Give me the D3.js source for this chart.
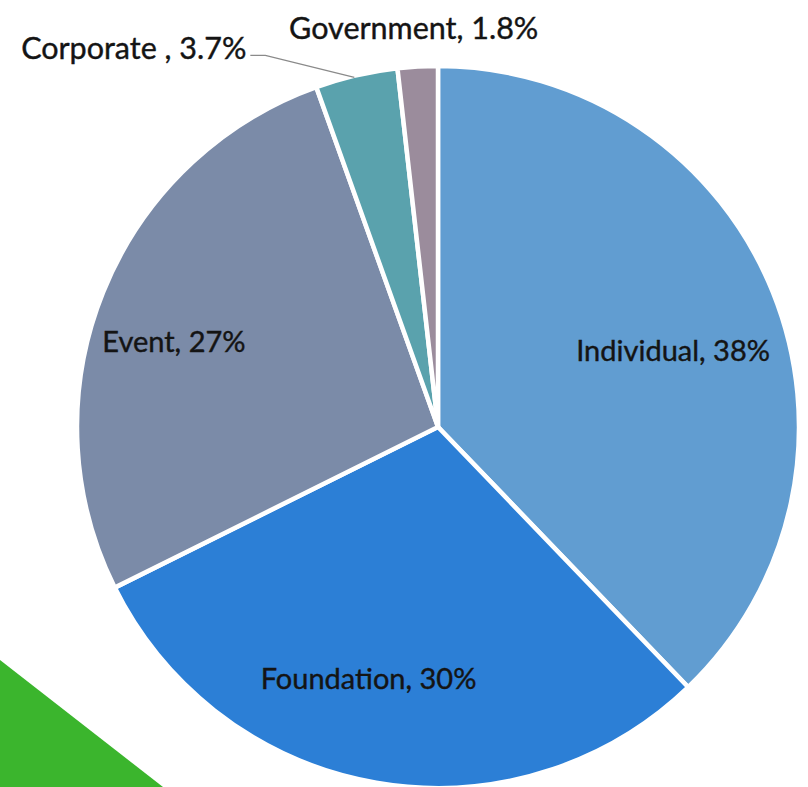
<!doctype html>
<html lang="en">
<head>
  <meta charset="utf-8">
  <title>Funding sources</title>
  <script src="https://cdn.jsdelivr.net/npm/d3@7"></script>
  <style>
    body { margin: 0; background: #fff; }
    svg { display: block; }
    .label { font-family: Lato, "Open Sans", sans-serif; font-size: 29px; fill: #141414; stroke: #141414; stroke-width: 0.4px; }
  </style>
</head>
<body>
  <div id="chart"></div>
  <script>
    // data, clockwise from 12 o'clock
    const categories = ["Individual", "Foundation", "Event", "Corporate ", "Government"];
    const values = [38, 30, 27, 3.7, 1.8];
    const valueLabels = ["38%", "30%", "27%", "3.7%", "1.8%"];

    const COLORS = ["#619dd1", "#2c7fd6", "#7b8ba8", "#5aa2ad", "#9b8c9c"];
    const GREEN = "#3bb52d";

    const w = 808;
    const h = 787;
    const cx = 438;
    const cy = 427;
    const radius = 361;

    // nudges for label placement (px), inner labels from centroid, outer from arc edge
    const labelStyle = {
      "Individual": { outside: false, dx: -6, dy: 21, size: 29 },
      "Foundation": { outside: false, dx: -25, dy: -4, size: 29 },
      "Event": { outside: false, dx: -23, dy: 12, size: 29 },
      "Corporate ": { outside: true, anchor: "end", dx: -110, dy: -27, elbow: -91, size: 30.5 },
      "Government": { outside: true, anchor: "middle", dx: -4, dy: -38, size: 30.5 }
    };

    const data = categories.map((name, i) => ({ name, value: values[i], text: valueLabels[i], color: COLORS[i] }));

    const svg = d3.select("#chart")
      .append("svg")
      .attr("width", w)
      .attr("height", h);

    // green corner decoration
    svg.append("path")
      .attr("d", d3.line()([[0, 660], [163, h], [0, h]]) + "Z")
      .style("fill", GREEN);

    const pie = d3.pie()
      .sort(null)
      .value(d => d.value);

    const arc = d3.arc().innerRadius(0).outerRadius(radius);
    const labelArc = d3.arc().innerRadius(radius * 0.72).outerRadius(radius * 0.72);
    const edgeArc = d3.arc().innerRadius(radius).outerRadius(radius);

    const g = svg.append("g").attr("transform", `translate(${cx}, ${cy})`);
    const arcs = pie(data);

    g.selectAll("path.slice")
      .data(arcs)
      .enter()
      .append("path")
      .attr("class", "slice")
      .attr("d", arc)
      .style("fill", d => d.data.color)
      .style("stroke", "#fff")
      .style("stroke-width", 4.5)
      .style("stroke-linejoin", "miter");

    arcs.forEach(d => {
      const s = labelStyle[d.data.name];
      const txt = d.data.name + ", " + d.data.text;
      if (!s.outside) {
        const [x, y] = labelArc.centroid(d);
        g.append("text")
          .attr("class", "label")
          .attr("x", x + s.dx)
          .attr("y", y + s.dy)
          .attr("dy", "0.35em")
          .style("font-size", s.size + "px")
          .style("text-anchor", "middle")
          .text(txt);
      } else {
        const [ex, ey] = edgeArc.centroid(d);
        const tx = ex + s.dx;
        const ty = ey + s.dy;
        if (s.elbow !== undefined) {
          const lineY = ty + 7;
          g.append("path")
            .attr("d", d3.line()([[tx + 4, lineY], [ex + s.elbow, lineY], [ex - 2, ey + 2]]))
            .style("fill", "none")
            .style("stroke", "#8a8a8a")
            .style("stroke-width", 1.2);
        }
        g.append("text")
          .attr("class", "label")
          .attr("x", tx)
          .attr("y", ty)
          .attr("dy", "0.35em")
          .style("font-size", s.size + "px")
          .style("text-anchor", s.anchor)
          .text(txt);
      }
    });
  </script>
</body>
</html>
